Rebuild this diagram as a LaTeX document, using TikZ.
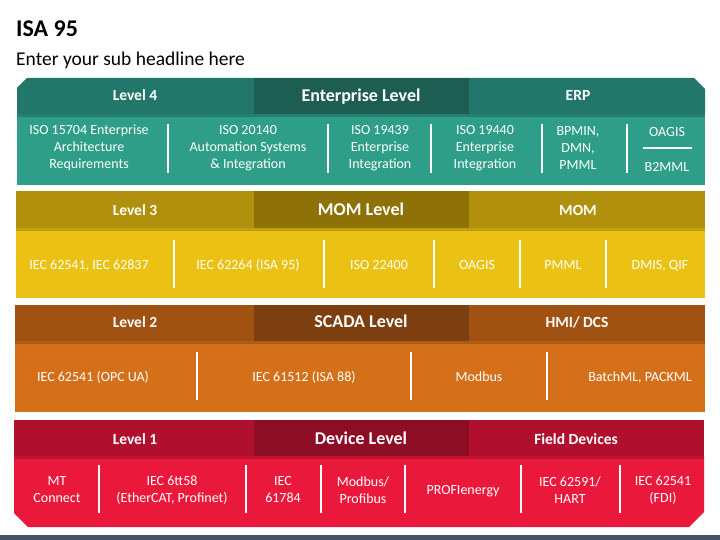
\documentclass[tikz,border=0pt]{standalone}
\usepackage{fontspec}
\setmainfont{Carlito}
\definecolor{tealH}{HTML}{23766A}
\definecolor{tealM}{HTML}{1E5E52}
\definecolor{tealB}{HTML}{2E9E88}
\definecolor{oliveH}{HTML}{B0900C}
\definecolor{oliveM}{HTML}{8E7208}
\definecolor{oliveB}{HTML}{EBC213}
\definecolor{orangeH}{HTML}{A05212}
\definecolor{orangeM}{HTML}{7D3F0F}
\definecolor{orangeB}{HTML}{D5701A}
\definecolor{redH}{HTML}{B0102E}
\definecolor{redM}{HTML}{8C0D24}
\definecolor{redB}{HTML}{EA183A}
\definecolor{slate}{HTML}{44546A}
\begin{document}
\begin{tikzpicture}[x=1pt,y=-1pt,
  bodytxt/.style={text=white,font=\fontsize{14}{17}\selectfont,align=center,inner sep=0pt},
  onetxt/.style={bodytxt,text height=9pt,text depth=0pt},
  headtxt/.style={text=white,font=\bfseries\fontsize{15.5}{18}\selectfont,inner sep=0pt,text height=10pt,text depth=0pt},
  midtxt/.style={text=white,font=\bfseries\fontsize{18}{21}\selectfont,inner sep=0pt,text height=11.6pt,text depth=0pt},
  divider/.style={draw=white,line width=1.6pt},
  hshadow/.style={fill=black,fill opacity=0.18}]
\useasboundingbox (0,0) rectangle (720,540);
\fill[white] (0,0) rectangle (720,540);

% title
\node[anchor=west,inner sep=0pt,font=\bfseries\fontsize{24}{28}\selectfont] (title) at (16,29) {ISA 95};
\node[anchor=west,inner sep=0pt,font=\fontsize{19.5}{23}\selectfont] (sub) at (16,60) {Enter your sub headline here};

% ---------- Level 4 ----------
\fill[tealB] (17,114) rectangle (705,185);
\fill[hshadow] (17,114) rectangle (705,117);
\fill[tealH] (17,88) -- (27,78) -- (694,78) -- (705,89) -- (705,114) -- (17,114) -- cycle;
\fill[tealM] (254,78) rectangle (469,114);
\node[headtxt] (l4) at (135,96) {Level 4};
\node[midtxt] (l4m) at (361,96) {Enterprise Level};
\node[headtxt] (l4r) at (578,96) {ERP};
\node[bodytxt] (n41) at (89,148) {ISO 15704 Enterprise\\Architecture\\Requirements};
\node[bodytxt] (n42) at (248,148) {ISO 20140\\Automation Systems\\\& Integration};
\node[bodytxt] (n43) at (380,148) {ISO 19439\\Enterprise\\Integration};
\node[bodytxt] (n44) at (485,148) {ISO 19440\\Enterprise\\Integration};
\node[bodytxt] (n45) at (578,148) {BPMIN,\\DMN,\\PMML};
\node[onetxt] (n46a) at (667,132) {OAGIS};
\node[onetxt] (n46b) at (667,167) {B2MML};
\foreach \x in {168,328,431,542,627} \draw[divider] (\x,124) -- (\x,173);
\draw[divider] (643,148) -- (692,148);

% ---------- Level 3 ----------
\fill[oliveB] (16,228) rectangle (705,298);
\fill[hshadow] (16,228) rectangle (705,231);
\fill[oliveH] (16,191) rectangle (705,228);
\fill[oliveM] (254,191) rectangle (469,228);
\node[headtxt] (l3) at (135,210) {Level 3};
\node[midtxt] (l3m) at (361,210) {MOM Level};
\node[headtxt] (l3r) at (578,210) {MOM};
\node[onetxt] (n31) at (89,265) {IEC 62541, IEC 62837};
\node[onetxt] (n32) at (248,265) {IEC 62264 (ISA 95)};
\node[onetxt] (n33) at (379,265) {ISO 22400};
\node[onetxt] (n34) at (477,265) {OAGIS};
\node[onetxt] (n35) at (563,265) {PMML};
\node[onetxt] (n36) at (660,265) {DMIS, QIF};
\foreach \x in {174,324,434,520,606} \draw[divider] (\x,240) -- (\x,288);

% ---------- Level 2 ----------
\fill[orangeB] (15,341) rectangle (705,412);
\fill[hshadow] (15,341) rectangle (705,344);
\fill[orangeH] (15,305) rectangle (705,341);
\fill[orangeM] (254,305) rectangle (469,341);
\node[headtxt] (l2) at (135,322) {Level 2};
\node[midtxt] (l2m) at (361,322) {SCADA Level};
\node[headtxt] (l2r) at (577,322) {HMI/ DCS};
\node[onetxt] (n21) at (93,377) {IEC 62541 (OPC UA)};
\node[onetxt] (n22) at (304,377) {IEC 61512 (ISA 88)};
\node[onetxt] (n23) at (479,377) {Modbus};
\node[onetxt] (n24) at (640,377) {BatchML, PACKML};
\foreach \x in {197,411,547} \draw[divider] (\x,352) -- (\x,400);

% ---------- Level 1 ----------
\fill[redB] (14,456) -- (704,456) -- (704,512) -- (689,527) -- (28,527) -- (14,513) -- cycle;
\fill[hshadow] (14,456) rectangle (704,459);
\fill[redH] (14,420) rectangle (704,456);
\fill[redM] (254,420) rectangle (469,456);
\node[headtxt] (l1) at (135,439) {Level 1};
\node[midtxt] (l1m) at (361,439) {Device Level};
\node[headtxt] (l1r) at (576,439) {Field Devices};
\node[bodytxt] (n11) at (57,490) {MT\\Connect};
\node[bodytxt] (n12) at (172,490) {IEC 6tt58\\(EtherCAT, Profinet)};
\node[bodytxt] (n13) at (283,490) {IEC\\61784};
\node[bodytxt] (n14) at (363,490) {Modbus/\\Profibus};
\node[onetxt] (n15) at (463,490) {PROFIenergy};
\node[bodytxt] (n16) at (570,490) {IEC 62591/\\HART};
\node[bodytxt] (n17) at (663,490) {IEC 62541\\(FDI)};
\foreach \x in {99,246,321,405,521,620} \draw[divider] (\x,465) -- (\x,513);

% bottom strip
\fill[slate] (0,535) rectangle (720,540);
\end{tikzpicture}
\end{document}
